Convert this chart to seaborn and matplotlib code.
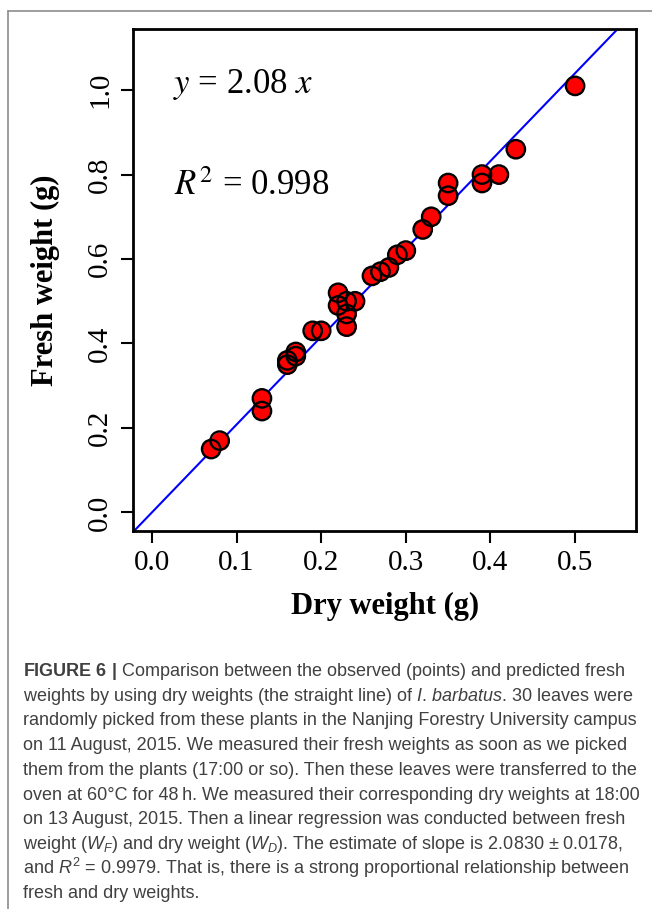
from __future__ import annotations

import matplotlib

matplotlib.use("Agg")
import matplotlib.pyplot as plt
from matplotlib.lines import Line2D
import pandas as pd
import seaborn as sns


# dry / fresh weights of the 30 leaves (g)
DRY_WEIGHT = [0.07, 0.08, 0.13, 0.13, 0.16, 0.16, 0.17, 0.17, 0.19, 0.20,
              0.22, 0.22, 0.23, 0.24, 0.23, 0.23, 0.26, 0.27, 0.28, 0.29,
              0.30, 0.32, 0.33, 0.35, 0.35, 0.39, 0.39, 0.41, 0.43, 0.50]
FRESH_WEIGHT = [0.15, 0.17, 0.27, 0.24, 0.35, 0.36, 0.37, 0.38, 0.43, 0.43,
                0.52, 0.49, 0.50, 0.50, 0.47, 0.44, 0.56, 0.57, 0.58, 0.61,
                0.62, 0.67, 0.70, 0.78, 0.75, 0.80, 0.78, 0.80, 0.86, 1.01]
SLOPE = 2.08
R_SQUARED = 0.998
X_TICKS = [0.0, 0.1, 0.2, 0.3, 0.4, 0.5]
Y_TICKS = [0.0, 0.2, 0.4, 0.6, 0.8, 1.0]

CAPTION = [
    r"$\mathbf{FIGURE\ 6\ |}$ Comparison between the observed (points) and predicted fresh",
    r"weights by using dry weights (the straight line) of $\mathit{I.}\,\mathit{barbatus}$. 30 leaves were",
    "randomly picked from these plants in the Nanjing Forestry University campus",
    "on 11 August, 2015. We measured their fresh weights as soon as we picked",
    "them from the plants (17:00 or so). Then these leaves were transferred to the",
    "oven at 60°C for 48\u2009h. We measured their corresponding dry weights at 18:00",
    "on 13 August, 2015. Then a linear regression was conducted between fresh",
    r"weight ($W_F$) and dry weight ($W_D$). The estimate of slope is 2.0830 ± 0.0178,",
    r"and $R^2$ = 0.9979. That is, there is a strong proportional relationship between",
    "fresh and dry weights.",
]

W, H = 652, 909


def style() -> None:
    sns.set_theme(style="ticks")
    plt.rcParams.update(
        {
            "font.family": ["Liberation Serif", "DejaVu Serif"],
            "text.color": "black",
            "axes.labelcolor": "black",
            "axes.linewidth": 2.0,
            "axes.edgecolor": "black",
            "xtick.major.width": 1.5,
            "ytick.major.width": 1.5,
            "xtick.major.size": 8.4,
            "ytick.major.size": 8.4,
            "xtick.color": "black",
            "ytick.color": "black",
            "mathtext.fontset": "custom",
            "mathtext.rm": "Liberation Sans",
            "mathtext.it": "Liberation Sans:italic",
            "mathtext.bf": "Liberation Sans:bold",
        }
    )


def main() -> None:
    style()
    data = pd.DataFrame({"dry": DRY_WEIGHT, "fresh": FRESH_WEIGHT})

    fig = plt.figure(figsize=(W / 100, H / 100), dpi=100)
    fig.patch.set_facecolor("white")
    ax = fig.add_axes([133.3 / W, 1 - 531 / H, 502.7 / W, 501.7 / H])

    ax.axline((0, 0), slope=SLOPE, color="#0000ff", lw=1.5, zorder=2)
    # fills first, outlines on top (so every circle edge stays visible)
    sns.scatterplot(data=data, x="dry", y="fresh", ax=ax, color="#ff0000",
                    s=175, linewidth=0, zorder=3, legend=False)
    sns.scatterplot(data=data, x="dry", y="fresh", ax=ax, facecolor="none",
                    edgecolor="black", s=175, linewidth=1.7, zorder=4, legend=False)

    ax.set_xlim(-0.022, 0.572)
    ax.set_ylim(-0.044, 1.144)
    ax.set_xticks(X_TICKS, [f"{t:.1f}" for t in X_TICKS])
    ax.set_yticks(Y_TICKS, [f"{t:.1f}" for t in Y_TICKS])
    ax.tick_params(axis="x", labelsize=21, pad=5)
    ax.tick_params(axis="y", labelsize=21, pad=6, labelrotation=90)
    for lab in ax.get_yticklabels():
        lab.set_verticalalignment("center")
    for side in ["top", "right", "bottom", "left"]:
        ax.spines[side].set_visible(True)

    ax.set_xlabel("Dry weight (g)", fontsize=22, fontweight="bold", va="center")
    ax.xaxis.set_label_coords(0.5, (531 - 606.7) / 501.7)
    ax.set_ylabel("Fresh weight (g)", fontsize=22, fontweight="bold", va="center")
    ax.yaxis.set_label_coords((45 - 133.3) / 502.7, 0.5)

    ax.text(0.078, 0.874, r"$y$ = 2.08 $x$", transform=ax.transAxes, fontsize=25,
            va="baseline", math_fontfamily="stix")
    ax.text(0.081, 0.67, rf"$R^2$ = {R_SQUARED}", transform=ax.transAxes, fontsize=25,
            va="baseline", math_fontfamily="stix")

    # caption block
    for i, line in enumerate(CAPTION):
        fig.text(22.7 / W, 1 - (676 + 24.7 * i) / H, line, fontsize=13,
                 family=["Liberation Sans", "DejaVu Sans"], color="#404040",
                 va="baseline", ha="left")

    # thin grey frame at top and left of the page
    fig.add_artist(Line2D([8 / W, 1], [1 - 11 / H] * 2, transform=fig.transFigure,
                          color="#8c8c8c", lw=1.2))
    fig.add_artist(Line2D([8 / W] * 2, [0, 1 - 11 / H], transform=fig.transFigure,
                          color="#8c8c8c", lw=1.2))

    fig.savefig("out.png", dpi=100)
    plt.close(fig)


if __name__ == "__main__":
    main()
